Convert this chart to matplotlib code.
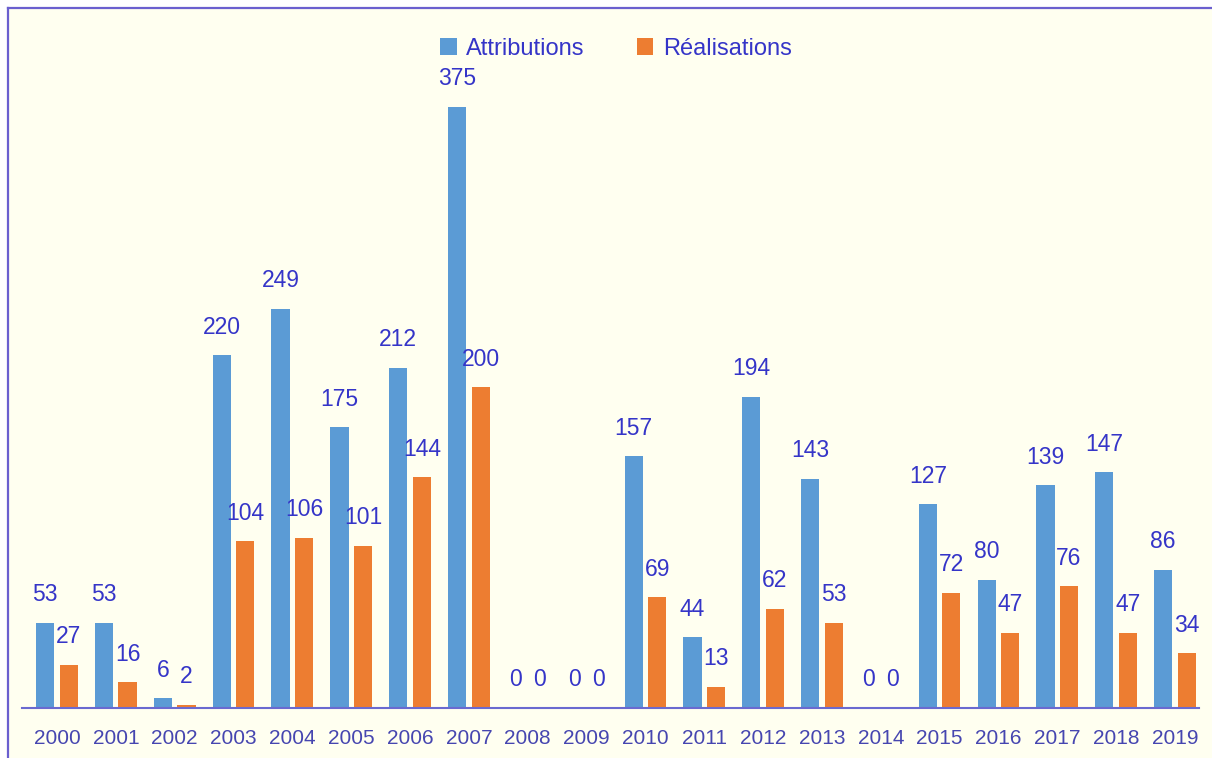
import matplotlib.pyplot as plt
import matplotlib.patches as mpatches
from matplotlib.lines import Line2D
import numpy as np

years = ["2000", "2001", "2002", "2003", "2004", "2005", "2006", "2007", "2008", "2009",
         "2010", "2011", "2012", "2013", "2014", "2015", "2016", "2017", "2018", "2019"]
attributions = [53, 53, 6, 220, 249, 175, 212, 375, 0, 0,
                157, 44, 194, 143, 0, 127, 80, 139, 147, 86]
realisations = [27, 16, 2, 104, 106, 101, 144, 200, 0, 0,
                69, 13, 62, 53, 0, 72, 47, 76, 47, 34]
series_names = ["Attributions", "Réalisations"]

plt.rcParams['font.family'] = ['Liberation Sans', 'DejaVu Sans']

blue = "#5b9bd5"
orange = "#ed7d31"
txt = "#3535c8"
tick_col = "#4646b0"
bg = "#fffff0"

W, H = 1212, 758
fig = plt.figure(figsize=(W / 100, H / 100), dpi=100, facecolor="white")

# cream panel with a thin purple frame on top and left
fig.add_artist(mpatches.Rectangle((8 / W, 0), 1, 1 - 8 / H, transform=fig.transFigure,
                                  facecolor=bg, edgecolor="none", zorder=0))
fig.add_artist(Line2D([8 / W, 1], [1 - 8 / H, 1 - 8 / H], transform=fig.transFigure,
                      color="#6a5fcf", lw=1.6))
fig.add_artist(Line2D([8 / W, 8 / W], [0, 1 - 8 / H], transform=fig.transFigure,
                      color="#6a5fcf", lw=1.6))

left, right = 21.7, 1198.5
bottom, top = 708, 30
ax = fig.add_axes([left / W, (H - bottom) / H, (right - left) / W, (bottom - top) / H])
ax.set_facecolor("none")

x = np.arange(len(years))
w = 0.31
off = 0.2
b1 = ax.bar(x - off, attributions, w, color=blue, label=series_names[0], zorder=2)
b2 = ax.bar(x + off, realisations, w, color=orange, label=series_names[1], zorder=2)
ax.bar_label(b1, padding=12, fontsize=16.5, color=txt)
ax.bar_label(b2, padding=12, fontsize=16.5, color=txt)

ax.set_xlim(-0.6, 19.4)
ax.set_ylim(0, (bottom - top) / 1.603)
ax.set_xticks(x)
ax.set_xticklabels(years, fontsize=15, color=tick_col)
ax.tick_params(axis="x", length=0, pad=15)
ax.set_yticks([])
for s in ["top", "right", "left"]:
    ax.spines[s].set_visible(False)
ax.spines["bottom"].set_color("#6a6ad0")
ax.spines["bottom"].set_linewidth(1.5)

fig.legend(handles=[b1, b2], loc="center", bbox_to_anchor=(616 / W, 1 - 49 / H),
           ncol=2, frameon=False, fontsize=17, labelcolor=txt,
           handlelength=0.7, handleheight=0.7, handletextpad=0.4, columnspacing=2.2)

plt.savefig("out.png", dpi=100, facecolor="white")
